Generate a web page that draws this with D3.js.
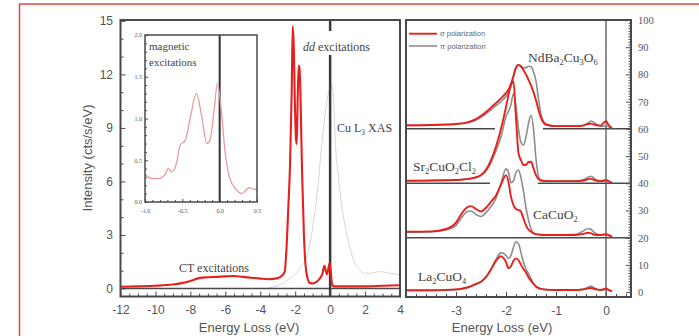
<!DOCTYPE html>
<html>
<head>
<meta charset="utf-8">
<script src="https://cdn.jsdelivr.net/npm/d3@7"></script>
<style>
  body { margin: 0; background: #fff; }
  svg { display: block; }
  .sans { font-family: "Liberation Sans", Arial, sans-serif; }
  .serif { font-family: "Liberation Serif", "Times New Roman", serif; }
</style>
</head>
<body>
<svg id="chart" width="699" height="336"></svg>
<script>
// ---- left panel: RIXS spectrum (cts/s/eV) ----
var rixsE = [-12, -11, -10, -9, -8.5, -8, -7.5, -7, -6.5, -6, -5.5, -5, -4.5, -4, -3.5, -3, -2.8, -2.6, -2.5, -2.4,
             -2.3, -2.2, -2.14, -2.08, -2.02, -1.96, -1.91, -1.86, -1.8, -1.76, -1.7, -1.65, -1.6, -1.5, -1.43,
             -1.3, -1.15, -1.0, -0.8, -0.6, -0.45, -0.33, -0.25, -0.18, -0.1, -0.03, 0.04, 0.1, 0.2, 0.4, 1, 2, 3, 4];
var rixsI = [0.1, 0.12, 0.15, 0.22, 0.3, 0.42, 0.58, 0.63, 0.65, 0.68, 0.7, 0.65, 0.6, 0.55, 0.52, 0.58, 0.68, 0.95, 2.2, 4.4,
             6.8, 11, 14.7, 13.5, 10.5, 8.5, 8.1, 10.5, 12.5, 12.4, 11, 8.5, 6.3, 3, 1.6,
             0.6, 0.3, 0.28, 0.35, 0.55, 0.8, 1.27, 1.0, 0.8, 1.1, 1.43, 0.9, 0.3, 0.12, 0.12, 0.12, 0.12, 0.15, 0.18];

// Cu L3 XAS (light grey)
var xasE = [-3.5, -3, -2.7, -2.3, -1.9, -1.6, -1.34, -1.1, -0.86, -0.7, -0.57, -0.4, -0.2, 0, 0.1,
            0.2, 0.29, 0.45, 0.57, 0.7, 0.86, 1.1, 1.34, 1.6, 1.91, 2.3, 2.87, 3.4, 4];
var xasI = [0.05, 0.15, 0.3, 0.55, 0.9, 1.3, 1.8, 2.8, 4.4, 5.7, 7.1, 8.8, 10.4, 11.3, 11.4,
            10.5, 8.3, 6.5, 5.4, 4.4, 3.5, 2.4, 1.6, 1.15, 0.86, 0.85, 0.95, 0.85, 0.77];

// inset: magnetic excitations
var magE = [-1.0, -0.91, -0.82, -0.73, -0.69, -0.64, -0.58, -0.53, -0.46, -0.40, -0.31, -0.24,
            -0.17, -0.13, -0.07, -0.03, 0.03, 0.07, 0.13, 0.23, 0.30, 0.39, 0.5];
var magI = [0.34, 0.28, 0.28, 0.33, 0.40, 0.36, 0.46, 0.68, 0.74, 0.98, 1.30, 1.02,
            0.70, 0.74, 1.14, 1.42, 1.02, 0.62, 0.30, 0.14, 0.10, 0.17, 0.14];

// ---- right panel: stacked dd spectra, sigma / pi ----
var ddE = [-4.0, -3.5, -3.2, -3.0, -2.9, -2.8, -2.7, -2.6, -2.5, -2.4, -2.3, -2.2, -2.1, -2.0, -1.95, -1.9, -1.85, -1.8, -1.75, -1.7,
           -1.65, -1.6, -1.55, -1.5, -1.45, -1.4, -1.35, -1.3, -1.2, -1.0, -0.6, -0.45, -0.35, -0.3, -0.2, -0.1, -0.05, 0.0, 0.05, 0.12];

var ndbaSigma = [61.3, 61.4, 61.6, 61.8, 62.0, 62.3, 62.8, 63.6, 64.8, 66.2, 67.8, 69.5, 71.2, 73.2, 74.5, 76.5, 79.5, 82.5, 83.5, 83,
                 81.5, 80, 78, 76, 73.5, 70.5, 67, 64, 61.5, 61.0, 61.0, 61.2, 61.8, 61.9, 61.3, 61.2, 62.2, 62.8, 61.5, 60.2];
var ndbaPi    = [61.2, 61.3, 61.5, 61.7, 61.9, 62.1, 62.5, 63.2, 64.2, 65.5, 67, 68.5, 70, 72, 73.5, 75.5, 79, 82.5, 83.5, 82.8,
                 82.3, 82.5, 83, 82.8, 81, 77.5, 71, 65.5, 61.8, 61.0, 61.0, 61.3, 62.3, 62.9, 61.8, 61.0, 61.0, 61.0, 60.8, 60.3];

var srSigma = [40.9, 41.0, 41.1, 41.2, 41.3, 41.5, 41.8, 42.2, 43, 45, 48.5, 53.5, 60, 68, 72.5, 76.5, 77.3, 64, 51, 48.5,
               46.7, 46.8, 47.8, 47.9, 45.5, 43, 41.5, 41.0, 40.8, 40.8, 40.8, 41, 41.5, 41.6, 41, 40.8, 41, 41.2, 40.8, 40.2];
var srPi    = [40.9, 41.0, 41.1, 41.2, 41.3, 41.5, 41.7, 42.1, 42.8, 44.5, 47.5, 52, 57, 64.5, 66.5, 69, 73, 68, 60, 55,
               54, 57, 62, 65, 60, 49, 42.5, 41.2, 40.9, 40.8, 40.8, 41.3, 42.3, 42.6, 41.3, 40.8, 40.8, 40.8, 40.6, 40.2];

var caSigma = [22.2, 22.3, 23.2, 25.5, 28.5, 30.8, 31.6, 30.5, 29.6, 31, 33.2, 35.5, 39.5, 43, 40.5, 35, 32, 30.5, 30.2, 29.5,
               27, 24.5, 23, 22.2, 21.6, 21.3, 21.2, 21.1, 21.0, 21.0, 21.0, 21.4, 21.8, 21.6, 21.0, 21.0, 21.2, 21.3, 21.0, 20.3];
var caPi    = [22.0, 22.1, 22.8, 24.5, 27, 29.3, 29.8, 28.5, 27.8, 29.2, 31.4, 34.5, 40, 45.3, 44, 40.2, 41, 44, 44.9, 42,
               37, 31, 26.5, 23.3, 21.8, 21.3, 21.1, 21.0, 21.0, 21.0, 21.2, 22.5, 23.4, 23.0, 21.5, 21.0, 21.0, 21.0, 20.8, 20.3];

var laSigma = [0.7, 0.7, 0.8, 1.0, 1.2, 1.6, 2.2, 3.0, 3.8, 5.5, 8.3, 11.5, 13.2, 11, 8.8, 9.5, 11.5, 12.4, 11.8, 10,
               8.5, 7.2, 5.5, 4.2, 3.0, 2.0, 1.5, 1.2, 0.9, 0.8, 0.8, 1.0, 1.4, 1.5, 1.0, 0.8, 1.1, 1.3, 0.9, 0.3];
var laPi    = [0.6, 0.6, 0.7, 0.9, 1.1, 1.5, 2.1, 2.9, 3.8, 5.6, 8.5, 12, 14.5, 13.5, 12.4, 13.5, 16.5, 18.5, 17.8, 14.5,
               11, 8.5, 6.8, 5, 3.2, 2.2, 1.5, 1.2, 0.9, 0.8, 0.8, 1.1, 1.9, 2.2, 1.2, 0.8, 0.8, 0.8, 0.6, 0.3];

var compounds = ["NdBa_2Cu_3O_6", "Sr_2CuO_2Cl_2", "CaCuO_2", "La_2CuO_4"];
var sigmaSets = [ndbaSigma, srSigma, caSigma, laSigma];
var piSets = [ndbaPi, srPi, caPi, laPi];

// baselines between the stacked spectra, broken where the spectrum below passes
var sepLevels = [60, 40, 20];
var sepSpans = [[[-4, -2.22], [-1.26, 0.5]], [[-4, -2.32], [-1.36, 0.5]], [[-4, 0.5]]];

var mainXTicks = d3.range(-12, 4.01, 2);
var mainYTicks = [0, 3, 6, 9, 12, 15];
var rightXTicks = [-4, -3, -2, -1, 0];
var rightYTicks = d3.range(0, 101, 10);
var insetXTicks = [-1, -0.5, 0, 0.5];
var insetYTicks = [0, 0.5, 1, 1.5, 2];

var RED = "#e5211d", GREY = "#8d8d8d", FRAME = "#4a4a4a", TXT = "#555";

var svg = d3.select("#chart");

// outer red frame (only top and left are inside the picture)
svg.append("rect").attr("x", 19.5).attr("y", 4).attr("width", 720).attr("height", 400)
  .attr("fill", "none").attr("stroke", "#e8453c").attr("stroke-width", 1.5);

var xMain = d3.scaleLinear().domain([-12, 4]).range([120.5, 400]);
var yMain = d3.scaleLinear().domain([-0.45, 15.05]).range([296.5, 20]);
var xR = d3.scaleLinear().domain([-4, 0.5]).range([406, 631]);
var yR = d3.scaleLinear().domain([-1.8, 100]).range([297, 20]);
var xIn = d3.scaleLinear().domain([-1, 0.5]).range([145, 257]);
var yIn = d3.scaleLinear().domain([0, 2]).range([202, 35]);

function zipLine(xs, ys, xScale, yScale) {
  return d3.line().x(function(d) { return xScale(d[0]); }).y(function(d) { return yScale(d[1]); })
    .curve(d3.curveMonotoneX)(xs.map(function(v, i) { return [v, ys[i]]; }));
}

function minorVals(lo, hi, step, major) {
  var n = Math.round((hi - lo) / step), out = [];
  for (var i = 0; i <= n; i++) {
    var v = +(lo + i * step).toFixed(4);
    if (!major.some(function(m) { return Math.abs(m - v) < 1e-6; })) out.push(v);
  }
  return out;
}

function styleAxis(g, cls, size) {
  g.select(".domain").remove();
  g.selectAll("line").attr("stroke", FRAME).attr("stroke-width", 1);
  g.selectAll("text").attr("class", cls).attr("fill", TXT).attr("font-size", size);
}

// text with "_n" subscripts
function formula(sel, str) {
  var shift = 0;
  str.split(/(_\d)/).forEach(function(part) {
    if (!part) return;
    if (part[0] === "_") {
      sel.append("tspan").attr("dy", 3 - shift).attr("font-size", "0.62em").text(part.slice(1));
      shift = 3;
    } else {
      sel.append("tspan").attr("dy", -shift).text(part);
      shift = 0;
    }
  });
}

// ================= left panel =================
var left = svg.append("g");

left.append("path").attr("d", zipLine(xasE, xasI, xMain, yMain))
  .attr("fill", "none").attr("stroke", "#d6d6d6").attr("stroke-width", 1);

left.append("line").attr("x1", xMain(-12)).attr("x2", xMain(4)).attr("y1", yMain(0)).attr("y2", yMain(0))
  .attr("stroke", FRAME).attr("stroke-width", 1.5);

left.append("line").attr("x1", xMain(0)).attr("x2", xMain(0)).attr("y1", 20).attr("y2", 296.5)
  .attr("stroke", "#3a3a3a").attr("stroke-width", 2.5);

left.append("path").attr("d", zipLine(rixsE, rixsI, xMain, yMain))
  .attr("fill", "none").attr("stroke", RED).attr("stroke-width", 2.1).attr("stroke-linejoin", "round");

left.append("rect").attr("x", 120.5).attr("y", 20).attr("width", 279.5).attr("height", 276.5)
  .attr("fill", "none").attr("stroke", FRAME).attr("stroke-width", 2);

left.append("g").attr("transform", "translate(0,296.5)")
  .call(d3.axisBottom(xMain).tickValues(mainXTicks).tickSize(-5).tickPadding(9).tickFormat(function(d) { return String(d); }))
  .call(styleAxis, "sans", 12);
left.append("g").attr("transform", "translate(0,296.5)")
  .call(d3.axisBottom(xMain).tickValues(minorVals(-12, 4, 0.5, mainXTicks)).tickSize(-3).tickFormat(""))
  .call(styleAxis, "sans", 12);
left.append("g").attr("transform", "translate(120.5,0)")
  .call(d3.axisLeft(yMain).tickValues(mainYTicks).tickSize(-5).tickPadding(7.5))
  .call(styleAxis, "sans", 12);
left.append("g").attr("transform", "translate(120.5,0)")
  .call(d3.axisLeft(yMain).tickValues(minorVals(0, 15, 1, mainYTicks)).tickSize(-3).tickFormat(""))
  .call(styleAxis, "sans", 12);

left.append("text").attr("class", "sans").attr("fill", TXT).attr("font-size", 13)
  .attr("text-anchor", "middle").attr("transform", "translate(92,158) rotate(-90)").text("Intensity (cts/s/eV)");
left.append("text").attr("class", "sans").attr("fill", TXT).attr("font-size", 13)
  .attr("text-anchor", "middle").attr("x", 249).attr("y", 332).text("Energy Loss (eV)");

// annotations
left.append("rect").attr("x", 301).attr("y", 31).attr("width", 72).attr("height", 24).attr("fill", "#fff");
var dd = left.append("text").attr("class", "serif").attr("fill", "#444").attr("font-size", 12)
  .attr("x", 303).attr("y", 51);
dd.append("tspan").attr("font-style", "italic").text("dd");
dd.append("tspan").text(" excitations");

left.append("text").attr("class", "serif").attr("fill", "#444").attr("font-size", 12)
  .attr("x", 214).attr("y", 272).attr("text-anchor", "middle").text("CT excitations");

var xasLbl = left.append("text").attr("class", "serif").attr("fill", "#444").attr("font-size", 12)
  .attr("x", 337).attr("y", 132);
formula(xasLbl, "Cu L_3 XAS");

// inset
var inset = svg.append("g");
inset.append("rect").attr("x", 145).attr("y", 35).attr("width", 112).attr("height", 167).attr("fill", "#fff");
inset.append("line").attr("x1", xIn(0)).attr("x2", xIn(0)).attr("y1", 35).attr("y2", 202)
  .attr("stroke", "#333").attr("stroke-width", 2);
inset.append("path").attr("d", zipLine(magE, magI, xIn, yIn))
  .attr("fill", "none").attr("stroke", "#e79c9c").attr("stroke-width", 1.3);
inset.append("rect").attr("x", 145).attr("y", 35).attr("width", 112).attr("height", 167)
  .attr("fill", "none").attr("stroke", FRAME).attr("stroke-width", 1.5);
inset.append("g").attr("transform", "translate(0,202)")
  .call(d3.axisBottom(xIn).tickValues(insetXTicks).tickSize(-3).tickPadding(7).tickFormat(function(d) { return d.toFixed(1); }))
  .call(styleAxis, "serif", 6);
inset.append("g").attr("transform", "translate(0,202)")
  .call(d3.axisBottom(xIn).tickValues(minorVals(-1, 0.5, 0.1, insetXTicks)).tickSize(-2).tickFormat(""))
  .call(styleAxis, "serif", 6);
inset.append("g").attr("transform", "translate(145,0)")
  .call(d3.axisLeft(yIn).tickValues(insetYTicks).tickSize(-3).tickPadding(3).tickFormat(function(d) { return d.toFixed(1); }))
  .call(styleAxis, "serif", 6);
inset.append("g").attr("transform", "translate(145,0)")
  .call(d3.axisLeft(yIn).tickValues(minorVals(0, 2, 0.1, insetYTicks)).tickSize(-2).tickFormat(""))
  .call(styleAxis, "serif", 6);
inset.append("text").attr("class", "serif").attr("fill", "#444").attr("font-size", 11)
  .attr("x", 149).attr("y", 50).text("magnetic");
inset.append("text").attr("class", "serif").attr("fill", "#444").attr("font-size", 11)
  .attr("x", 149).attr("y", 66).text("excitations");

// ================= right panel =================
var right = svg.append("g");

sepLevels.forEach(function(lv, i) {
  sepSpans[i].forEach(function(s) {
    right.append("line").attr("x1", xR(s[0])).attr("x2", xR(s[1])).attr("y1", yR(lv)).attr("y2", yR(lv))
      .attr("stroke", FRAME).attr("stroke-width", 1.5);
  });
});

right.append("line").attr("x1", xR(0)).attr("x2", xR(0)).attr("y1", 20).attr("y2", 297)
  .attr("stroke", "#555").attr("stroke-width", 1.3);

piSets.forEach(function(vals) {
  right.append("path").attr("d", zipLine(ddE, vals, xR, yR))
    .attr("fill", "none").attr("stroke", GREY).attr("stroke-width", 1.6);
});
sigmaSets.forEach(function(vals) {
  right.append("path").attr("d", zipLine(ddE, vals, xR, yR))
    .attr("fill", "none").attr("stroke", RED).attr("stroke-width", 1.9);
});

right.append("rect").attr("x", 406).attr("y", 20).attr("width", 225).attr("height", 277)
  .attr("fill", "none").attr("stroke", FRAME).attr("stroke-width", 2);

right.append("g").attr("transform", "translate(0,297)")
  .call(d3.axisBottom(xR).tickValues(rightXTicks).tickSize(-5).tickPadding(9)
    .tickFormat(function(d) { return d === -4 ? "" : String(d); }))
  .call(styleAxis, "sans", 12);
right.append("g").attr("transform", "translate(0,297)")
  .call(d3.axisBottom(xR).tickValues(minorVals(-4, 0.4, 0.2, rightXTicks)).tickSize(-3).tickFormat(""))
  .call(styleAxis, "sans", 12);
right.append("g").attr("transform", "translate(631,0)")
  .call(d3.axisRight(yR).tickValues(rightYTicks).tickSize(-5).tickPadding(7))
  .call(styleAxis, "serif", 10.5);
right.append("g").attr("transform", "translate(631,0)")
  .call(d3.axisRight(yR).tickValues(minorVals(0, 100, 1, rightYTicks)).tickSize(-2.5).tickFormat(""))
  .call(styleAxis, "serif", 10.5);

right.append("text").attr("class", "sans").attr("fill", TXT).attr("font-size", 13)
  .attr("text-anchor", "middle").attr("x", 502).attr("y", 332).text("Energy Loss (eV)");

// legend
var legend = [["\u03c3 polarization", RED, 1.9], ["\u03c0 polarization", GREY, 1.6]];
legend.forEach(function(l, i) {
  var y = 33.7 + i * 12.3;
  right.append("line").attr("x1", 409).attr("x2", 437).attr("y1", y).attr("y2", y)
    .attr("stroke", l[1]).attr("stroke-width", l[2]);
  right.append("text").attr("class", "sans").attr("fill", "#666").attr("font-size", 7.5)
    .attr("x", 440).attr("y", y + 2.6).text(l[0]);
});

// compound labels
var labelPos = [[528, 62], [413, 171], [533, 219], [418, 281]];
compounds.forEach(function(c, i) {
  var t = right.append("text").attr("class", "serif").attr("fill", "#444").attr("font-size", 13.5)
    .attr("x", labelPos[i][0]).attr("y", labelPos[i][1]);
  formula(t, c);
});
</script>
</body>
</html>
